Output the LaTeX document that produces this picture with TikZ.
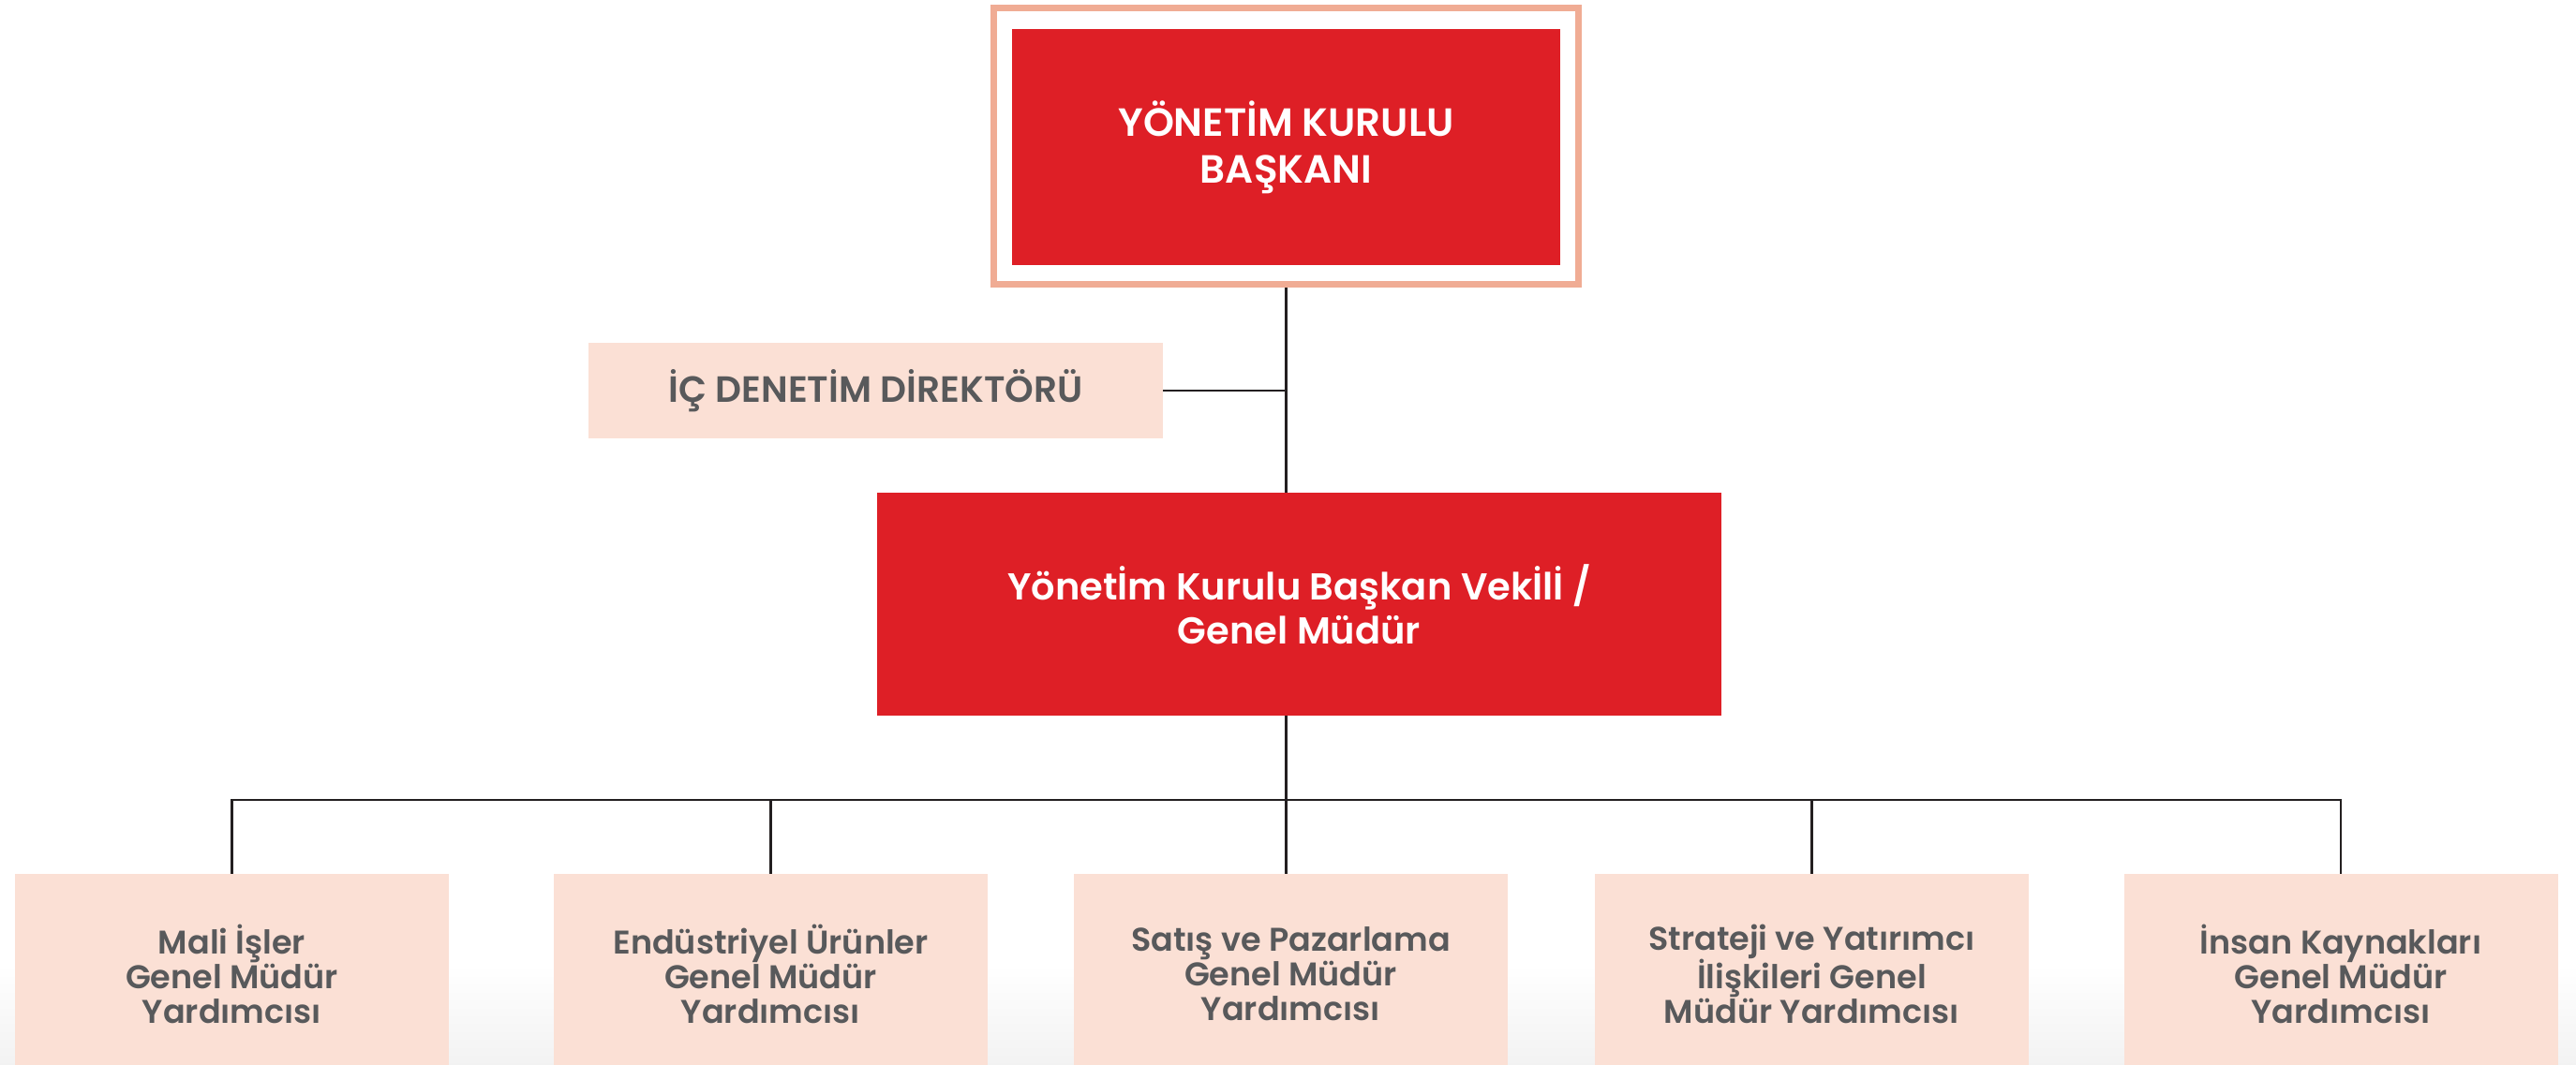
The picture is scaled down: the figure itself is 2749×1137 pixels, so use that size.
\documentclass[tikz,border=0pt]{standalone}
\usepackage{fontspec}
\setmainfont{Poppins}[BoldFont={Poppins SemiBold}]
\definecolor{redbox}{HTML}{DE1F26}
\definecolor{framec}{HTML}{F0AC94}
\definecolor{peach}{HTML}{FBE0D5}
\definecolor{txtgray}{HTML}{58595B}
\definecolor{linec}{HTML}{231F20}
\begin{document}
\begin{tikzpicture}[x=1pt,y=-1pt,
  conn/.style={draw=linec,line width=2.6pt},
  framebox/.style={draw=framec,line width=7pt,fill=white,minimum width=624pt,minimum height=295pt,inner sep=0pt},
  redtop/.style={fill=redbox,text=white,minimum width=585pt,minimum height=252pt,inner sep=0pt,align=center,font=\fontsize{42}{50}\selectfont\bfseries},
  redmid/.style={fill=redbox,text=white,minimum width=901pt,minimum height=238pt,inner sep=0pt,align=center,font=\fontsize{40}{47}\selectfont\bfseries},
  icbox/.style={fill=peach,text=txtgray,minimum width=613pt,minimum height=102pt,inner sep=0pt,align=center,font=\fontsize{39}{44}\selectfont\bfseries},
  subbox/.style={fill=peach,text=txtgray,minimum width=463pt,minimum height=214pt,inner sep=0pt,align=center,font=\fontsize{35}{37}\selectfont\bfseries}
]
\useasboundingbox (0,0) rectangle (2749,1137);
\fill[white] (0,0) rectangle (2749,1137);
\shade[top color=white,bottom color=black!5] (0,1030) rectangle (2749,1137);

\node[framebox] (topframe) at (1372.5,156) {};
\node[redtop] (top) at (1372.5,157) {YÖNETİM KURULU\\BAŞKANI};
\node[icbox] (ic) at (934.5,417) {İÇ DENETİM DİREKTÖRÜ};
\node[redmid] (mid) at (1386.5,645) {Yönetİm Kurulu Başkan Vekİlİ /\\Genel Müdür};

\node[subbox] (b1) at (247.5,1040) {Mali İşler\\Genel Müdür\\Yardımcısı};
\node[subbox] (b2) at (822.5,1040) {Endüstriyel Ürünler\\Genel Müdür\\Yardımcısı};
\node[subbox] (b3) at (1377.5,1040) {Satış ve Pazarlama\\Genel Müdür\\Yardımcısı};
\node[subbox] (b4) at (1933.5,1040) {Strateji ve Yatırımcı\\İlişkileri Genel\\Müdür Yardımcısı};
\node[subbox] (b5) at (2498,1040) {İnsan Kaynakları\\Genel Müdür\\Yardımcısı};

\coordinate (bus) at (1372.5,854);
\draw[conn] (topframe.south) -- (topframe.south |- mid.north);
\draw[conn] (ic.east) -- (ic.east -| topframe.south);
\draw[conn] (bus |- mid.south) -- (bus);
\draw[conn] (b1.north) |- (bus) -| (b5.north);
\draw[conn] (bus) -| (b2.north);
\draw[conn] (bus) -- (bus |- b3.north);
\draw[conn] (bus) -| (b4.north);
\end{tikzpicture}
\end{document}
